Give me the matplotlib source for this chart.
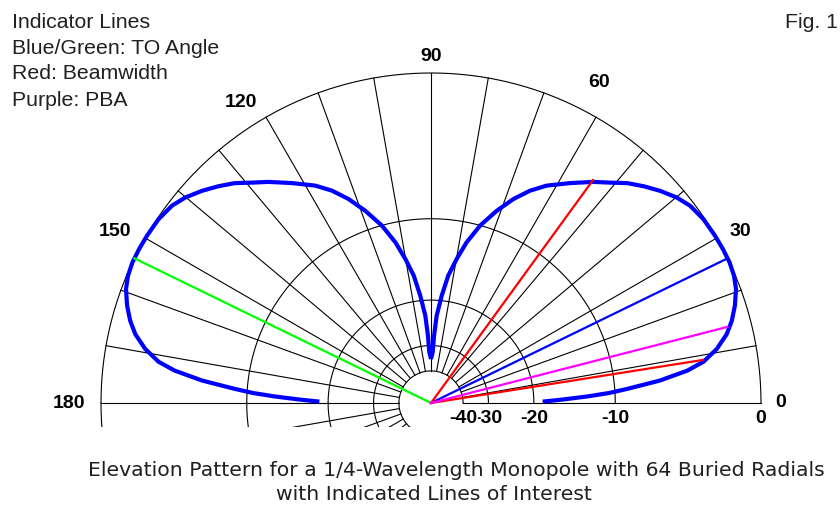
import numpy as np
import matplotlib
matplotlib.use('Agg')
import matplotlib.pyplot as plt
from matplotlib.patches import Rectangle

# elevation pattern (one lobe, mirrored for the other side)
elev_deg = [0.7, 1.5, 2.4, 3.2, 4.1, 5.6, 7.2, 8.6, 10.7, 13.1, 15.3, 17.8, 20.5,
            22.8, 25.2, 27.8, 30.5, 34.0, 37.3, 39.9, 42.8, 45.5, 48.2, 51.0, 53.7,
            57.7, 62.0, 65.0, 68.0, 71.1, 74.5, 77.5, 79.9, 82.3, 84.3, 86.3, 87.4,
            88.1, 90.0]
gain_db = [-18.6, -15.8, -12.8, -10.6, -8.9, -6.2, -4.2, -3.1, -2.17, -1.43, -0.97,
           -0.57, -0.23, -0.07, 0.0, 0.0, -0.02, -0.07, -0.23, -0.51, -0.95, -1.42,
           -1.93, -2.6, -3.17, -4.08, -5.03, -5.88, -6.96, -8.32, -10.0, -11.94,
           -13.96, -16.19, -19.2, -22.8, -27.3, -32.1, -34.6]

# indicator lines: TO angle (blue/green), beamwidth (red), PBA (purple)
ind_deg = [26, 154, 54, 9, 14.4]
ind_db = [0.0, 0.0, -3.1, -3.1, -1.3]
ind_col = ['#0000ff', '#00ff00', '#ff0000', '#ff0000', '#ff00ff']

ring_db = [0, -10, -20, -30, -40]
ring_labels = ['0', '-10', '-20', '-30', '-40']
spoke_deg = [0, 10, 20, 30, 40, 50, 60, 70, 80, 90, 100, 110, 120, 130, 140, 150, 160, 170, 180]
lower_spoke_deg = [190, 200, 210, 220, 230, 240, 250, 260]

angle_labels = ['0', '30', '60', '90', '120', '150', '180']
# where each angle label sits (angle in degrees, radius as fraction of outer ring)
label_pos_deg = [0.2, 29.2, 62.4, 90, 122.2, 151.4, 180]
label_pos_r = [1.058, 1.074, 1.101, 1.052, 1.081, 1.090, 1.097]

legend_lines = ['Indicator Lines', 'Blue/Green: TO Angle', 'Red: Beamwidth', 'Purple: PBA']
legend_base_px = [28.5, 53.5, 79.0, 106.0]
title_lines = ['Elevation Pattern for a 1/4-Wavelength Monopole with 64 Buried Radials',
               'with Indicated Lines of Interest']


def arrl_r(db):
    # ARRL log scale: radius shrinks by 0.89 every 2 dB
    return 0.89 ** (-np.asarray(db, dtype=float) / 2.0)


W, H = 840, 510
cx, cy, R = 431, 404, 330

fig = plt.figure(figsize=(W / 100, H / 100), dpi=100)
ax = fig.add_axes([0, 0, 1, 1])
ax.set_xlim(-cx / R, (W - cx) / R)
ax.set_ylim(-(H - cy) / R, cy / R)
ax.axis('off')

grid_kw = dict(color='black', lw=0.8, zorder=1)
r_in = float(arrl_r(-40))
clip = Rectangle((-2, -24 / R), 4, 3, transform=ax.transData)

# upper half grid
th = np.radians(np.linspace(0, 180, 361))
for db in ring_db:
    r = arrl_r(db)
    ax.plot(r * np.cos(th), r * np.sin(th), **grid_kw)
for a in spoke_deg:
    t = np.radians(a)
    ax.plot([r_in * np.cos(t), np.cos(t)], [r_in * np.sin(t), np.sin(t)], **grid_kw)

# lower-left grid, cut off by the window edge
th2 = np.radians(np.linspace(180, 270, 181))
for db in ring_db:
    r = arrl_r(db)
    ln, = ax.plot(r * np.cos(th2), r * np.sin(th2), **grid_kw)
    ln.set_clip_path(clip)
for a in lower_spoke_deg:
    t = np.radians(a)
    ln, = ax.plot([r_in * np.cos(t), np.cos(t)], [r_in * np.sin(t), np.sin(t)], **grid_kw)
    ln.set_clip_path(clip)

# pattern
el = np.radians(elev_deg)
rp = arrl_r(gain_db)
for sgn in (1, -1):
    ax.plot(sgn * rp * np.cos(el), rp * np.sin(el), color='#0000ff', lw=3.0,
            solid_capstyle='butt', solid_joinstyle='round', zorder=3)

# indicator lines
for a, db, c in zip(ind_deg, ind_db, ind_col):
    t = np.radians(a)
    r = arrl_r(db)
    ax.plot([0, r * np.cos(t)], [0, r * np.sin(t)], color=c, lw=1.6, zorder=4)

# angle labels
lab_kw = dict(family=['Liberation Sans', 'DejaVu Sans'], fontsize=14,
              fontweight='bold', ha='center', va='center', zorder=5)
for s, a, rr in zip(angle_labels, label_pos_deg, label_pos_r):
    t = np.radians(a)
    ax.text(rr * np.cos(t), rr * np.sin(t), s, **lab_kw)

# dB scale labels along the bottom
for db, s in zip(ring_db, ring_labels):
    ax.text(float(arrl_r(db)), -15 / R, s,
            bbox=dict(facecolor='white', edgecolor='none', pad=0.5), **lab_kw)

# text
txt_kw = dict(family=['Liberation Sans', 'DejaVu Sans'], fontsize=15.3, color='#202020')
for s, yb in zip(legend_lines, legend_base_px):
    fig.text(12 / W, 1 - yb / H, s, va='baseline', ha='left', **txt_kw)
fig.text(838 / W, 1 - 27.5 / H, 'Fig. 1', va='baseline', ha='right', **txt_kw)

ttl_kw = dict(family=['DejaVu Sans'], fontsize=14.7, color='#202020', va='center', ha='center')
fig.text(456 / W, 1 - 471 / H, title_lines[0], **ttl_kw)
fig.text(434 / W, 1 - 495 / H, title_lines[1], **ttl_kw)

fig.savefig('out.png', dpi=100)
